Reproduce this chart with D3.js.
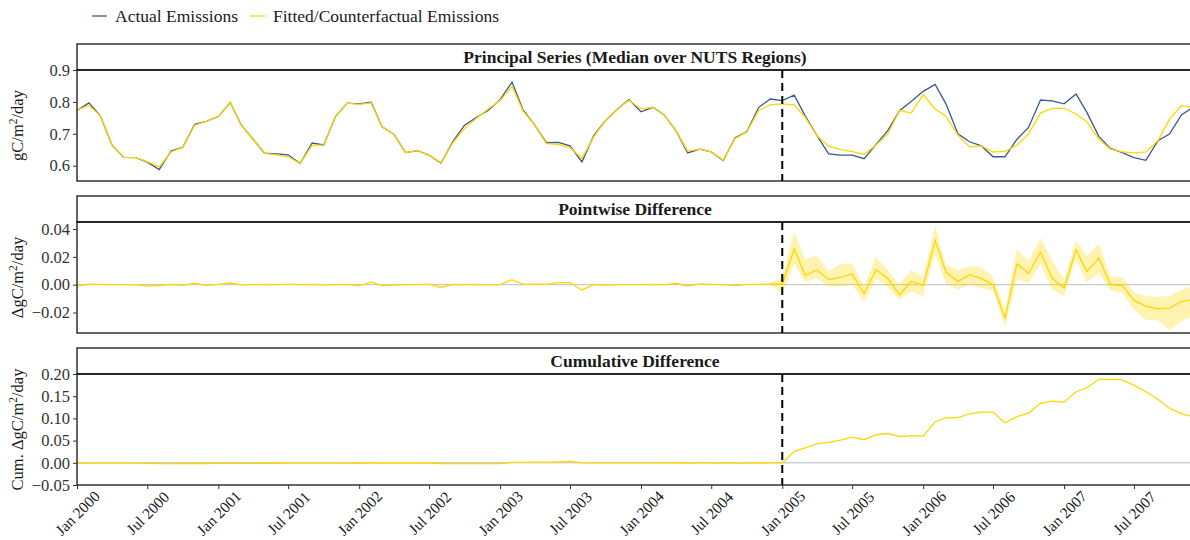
<!DOCTYPE html>
<html>
<head>
<meta charset="utf-8">
<script src="https://cdn.jsdelivr.net/npm/d3@7"></script>
<style>
body { margin: 0; background: #fff; }
text { font-family: "Liberation Serif", "DejaVu Serif", serif; }
</style>
</head>
<body>
<div id="chartArea"></div>
<script>
// monthly series, Jan 2000 .. Dec 2007
const startMonth = Date.UTC(2000, 0, 1);
const endMonth = Date.UTC(2007, 11, 1);
const breakMonth = Date.UTC(2005, 0, 1);

const actual = [
  0.773, 0.797, 0.757, 0.664, 0.626, 0.625, 0.611, 0.588, 0.646, 0.658, 0.730, 0.739,
  0.754, 0.798, 0.729, 0.683, 0.639, 0.637, 0.634, 0.607, 0.671, 0.665, 0.755, 0.796,
  0.794, 0.799, 0.722, 0.699, 0.641, 0.647, 0.633, 0.608, 0.676, 0.727, 0.752, 0.773,
  0.807, 0.862, 0.776, 0.727, 0.672, 0.673, 0.662, 0.612, 0.695, 0.741, 0.778, 0.807,
  0.769, 0.783, 0.759, 0.709, 0.640, 0.652, 0.643, 0.616, 0.688, 0.706, 0.783, 0.809,
  0.804, 0.821, 0.757, 0.694, 0.637, 0.633, 0.633, 0.622, 0.667, 0.709, 0.773, 0.801,
  0.833, 0.855, 0.794, 0.700, 0.675, 0.662, 0.628, 0.628, 0.683, 0.720, 0.806, 0.803,
  0.794, 0.825, 0.767, 0.692, 0.654, 0.641, 0.625, 0.617, 0.678, 0.699, 0.759, 0.783
];

const fitted = [
  0.775, 0.789, 0.757, 0.664, 0.626, 0.625, 0.613, 0.596, 0.643, 0.658, 0.727, 0.739,
  0.754, 0.798, 0.729, 0.683, 0.639, 0.634, 0.628, 0.607, 0.664, 0.665, 0.755, 0.796,
  0.792, 0.797, 0.722, 0.699, 0.641, 0.647, 0.633, 0.610, 0.672, 0.717, 0.749, 0.778,
  0.804, 0.849, 0.772, 0.727, 0.669, 0.667, 0.657, 0.623, 0.691, 0.741, 0.778, 0.805,
  0.778, 0.783, 0.759, 0.709, 0.646, 0.652, 0.643, 0.618, 0.685, 0.706, 0.773, 0.791,
  0.794, 0.791, 0.752, 0.694, 0.662, 0.650, 0.644, 0.636, 0.665, 0.699, 0.773, 0.765,
  0.823, 0.778, 0.755, 0.696, 0.659, 0.662, 0.643, 0.645, 0.664, 0.699, 0.765, 0.780,
  0.780, 0.762, 0.738, 0.683, 0.652, 0.643, 0.640, 0.643, 0.678, 0.746, 0.788, 0.783
];

const pointDiff = [
  -0.0010, 0.0003, 0.0002, 0.0001, 0.0000, -0.0002, -0.0010, -0.0006, 0.0002, -0.0005, 0.0010, -0.0005,
  0.0002, 0.0012, -0.0001, 0.0000, 0.0002, 0.0000, 0.0004, 0.0000, 0.0002, -0.0002, 0.0000, 0.0002,
  -0.0008, 0.0020, -0.0006, -0.0003, 0.0000, 0.0000, 0.0004, -0.0020, 0.0002, 0.0000, 0.0002, -0.0002,
  0.0000, 0.0036, 0.0002, 0.0004, 0.0002, 0.0014, 0.0014, -0.0038, 0.0000, -0.0003, 0.0000, 0.0000,
  0.0000, 0.0002, 0.0000, 0.0010, -0.0010, 0.0005, 0.0002, 0.0000, -0.0007, 0.0002, 0.0002, 0.0005,
  0.0005, 0.0257, 0.0067, 0.0106, 0.0036, 0.0053, 0.0077, -0.0065, 0.0108, 0.0046, -0.0072, 0.0024,
  -0.0005, 0.0317, 0.0091, 0.0022, 0.0072, 0.0043, 0.0000, -0.0240, 0.0149, 0.0082, 0.0233, 0.0048,
  -0.0024, 0.0252, 0.0094, 0.0192, 0.0000, -0.0007, -0.0113, -0.0156, -0.0173, -0.0168, -0.0120, -0.0108
];

// uncertainty band, from Dec 2004 onward
const bandStart = 59;
const bandLo = [
  0.0000,
  -0.0065, 0.0151, 0.0017, 0.0048, -0.0017, -0.0012, 0.0000, -0.0127, 0.0040, -0.0017, -0.0108, -0.0048,
  -0.0084, 0.0216, 0.0007, -0.0036, 0.0000, -0.0024, -0.0048, -0.0300, 0.0040, 0.0012, 0.0144, -0.0036,
  -0.0084, 0.0180, 0.0017, 0.0084, -0.0041, -0.0060, -0.0180, -0.0252, -0.0257, -0.0324, -0.0264, -0.0220
];
const bandHi = [
  0.0010,
  0.0055, 0.0384, 0.0180, 0.0210, 0.0096, 0.0151, 0.0151, -0.0010, 0.0200, 0.0103, 0.0000, 0.0103,
  0.0055, 0.0425, 0.0144, 0.0103, 0.0132, 0.0127, 0.0055, -0.0175, 0.0257, 0.0168, 0.0336, 0.0175,
  0.0036, 0.0319, 0.0204, 0.0293, 0.0060, 0.0055, -0.0055, -0.0084, -0.0089, -0.0079, -0.0036, -0.0010
];

const cumDiff = [
  -0.0010, -0.0008, -0.0007, -0.0007, -0.0008, -0.0009, -0.0015, -0.0018, -0.0017, -0.0019, -0.0014, -0.0016,
  -0.0015, -0.0010, -0.0011, -0.0011, -0.0010, -0.0010, -0.0008, -0.0008, -0.0007, -0.0008, -0.0008, -0.0007,
  -0.0010, -0.0002, -0.0004, -0.0005, -0.0005, -0.0005, -0.0004, -0.0018, -0.0018, -0.0019, -0.0018, -0.0019,
  -0.0019, 0.0008, 0.0010, 0.0014, 0.0015, 0.0020, 0.0030, 0.0002, 0.0000, -0.0002, -0.0002, -0.0002,
  -0.0002, -0.0001, -0.0002, 0.0001, -0.0005, -0.0003, -0.0003, -0.0004, -0.0007, -0.0006, -0.0005, -0.0003,
  0.0000, 0.0260, 0.0336, 0.0425, 0.0460, 0.0510, 0.0580, 0.0520, 0.0630, 0.0660, 0.0590, 0.0610,
  0.0600, 0.0925, 0.1010, 0.1020, 0.1100, 0.1140, 0.1140, 0.0900, 0.1040, 0.1120, 0.1340, 0.1390,
  0.1366, 0.1600, 0.1690, 0.1880, 0.1880, 0.1866, 0.1750, 0.1600, 0.1430, 0.1230, 0.1100, 0.1040
];

const months = d3.utcMonths(new Date(startMonth), new Date(Date.UTC(2008, 0, 1)));

const tickLabels1 = [0.6, 0.7, 0.8, 0.9];
const tickLabels2 = [-0.02, 0.00, 0.02, 0.04];
const tickLabels3 = [-0.05, 0.00, 0.05, 0.10, 0.15, 0.20];

const blue = "#3a5891";
const gold = "#ffd700";

const W = 1190, H = 540;
const left = 77, right = 1193;

const svg = d3.select("#chartArea")
  .append("svg")
  .attr("width", W)
  .attr("height", H)
  .style("display", "block");

svg.append("rect").attr("width", W).attr("height", H).attr("fill", "#fff");

const x = d3.scaleUtc()
  .domain([new Date(startMonth), new Date(endMonth)])
  .range([left, right]);

// legend
const legend = [
  { label: "Actual Emissions", color: blue, x: 92 },
  { label: "Fitted/Counterfactual Emissions", color: gold, x: 250 }
];
legend.forEach(l => {
  svg.append("line")
    .attr("x1", l.x).attr("x2", l.x + 15)
    .attr("y1", 16).attr("y2", 16)
    .attr("stroke", l.color).attr("stroke-width", 1.3);
  svg.append("text")
    .attr("x", l.x + 23).attr("y", 22)
    .attr("font-size", 17.5)
    .attr("fill", "#1a1a1a")
    .text(l.label);
});

function panel(opts) {
  const g = svg.append("g");
  const plotTop = opts.top + 26;
  const plotBottom = plotTop + 111;

  const y = d3.scaleLinear().domain(opts.domain).range([plotBottom, plotTop]);

  // strip
  g.append("rect")
    .attr("x", left).attr("y", opts.top)
    .attr("width", right - left).attr("height", plotTop - opts.top)
    .attr("fill", "#fff").attr("stroke", "#000").attr("stroke-width", 1.2);
  g.append("text")
    .attr("x", (left + right) / 2).attr("y", opts.top + 19)
    .attr("text-anchor", "middle")
    .attr("font-size", 17.5).attr("font-weight", "bold")
    .attr("fill", "#1a1a1a")
    .text(opts.title);

  const clipId = "clip" + opts.top;
  svg.append("clipPath").attr("id", clipId)
    .append("rect").attr("x", left).attr("y", plotTop)
    .attr("width", right - left).attr("height", plotBottom - plotTop);

  const inner = g.append("g").attr("clip-path", `url(#${clipId})`);

  if (opts.zeroLine) {
    inner.append("line")
      .attr("x1", left).attr("x2", right)
      .attr("y1", y(0)).attr("y2", y(0))
      .attr("stroke", "#bdbdbd").attr("stroke-width", 1);
  }

  opts.draw(inner, y);

  // break line
  inner.append("line")
    .attr("x1", x(new Date(breakMonth))).attr("x2", x(new Date(breakMonth)))
    .attr("y1", plotTop).attr("y2", plotBottom)
    .attr("stroke", "#000").attr("stroke-width", 2)
    .attr("stroke-dasharray", "8,5");

  // frame
  g.append("rect")
    .attr("x", left).attr("y", plotTop)
    .attr("width", right - left).attr("height", plotBottom - plotTop)
    .attr("fill", "none").attr("stroke", "#000").attr("stroke-width", 1.2);

  // y axis
  const ya = g.append("g")
    .attr("transform", `translate(${left},0)`)
    .call(d3.axisLeft(y).tickValues(opts.ticks).tickSize(4).tickFormat(d3.format(opts.fmt)));
  ya.select(".domain").remove();
  ya.selectAll("line").attr("stroke", "#333");
  ya.selectAll("text")
    .attr("font-family", "Liberation Serif")
    .attr("font-size", 16.5).attr("fill", "#333");

  // y title
  const t = g.append("text")
    .attr("transform", `translate(23,${(plotTop + plotBottom) / 2}) rotate(-90)`)
    .attr("text-anchor", "middle")
    .attr("font-size", 16.5).attr("fill", "#1a1a1a");
  t.append("tspan").text(opts.ylabel + "gC/m");
  t.append("tspan").attr("dy", -6).attr("font-size", 11.5).text("2");
  t.append("tspan").attr("dy", 6).text("/day");

  return { y, plotBottom };
}

const lineOf = (arr, y) => d3.line()
  .x((d, i) => x(months[i]))
  .y((d, i) => y(arr[i]))(arr);

panel({
  top: 44, domain: [0.552, 0.9], ticks: tickLabels1, fmt: ".1f",
  title: "Principal Series (Median over NUTS Regions)", ylabel: "",
  draw: (gg, y) => {
    gg.append("path").attr("d", lineOf(actual, y))
      .attr("fill", "none").attr("stroke", blue).attr("stroke-width", 1.3);
    gg.append("path").attr("d", lineOf(fitted, y))
      .attr("fill", "none").attr("stroke", gold).attr("stroke-width", 1.3);
  }
});

panel({
  top: 196, domain: [-0.0347, 0.045], ticks: tickLabels2, fmt: ".2f",
  title: "Pointwise Difference", ylabel: "Δ", zeroLine: true,
  draw: (gg, y) => {
    const area = d3.area()
      .x((d, i) => x(months[bandStart + i]))
      .y0((d, i) => y(bandLo[i]))
      .y1((d, i) => y(bandHi[i]));
    gg.append("path").attr("d", area(bandLo))
      .attr("fill", gold).attr("opacity", 0.3);
    gg.append("path").attr("d", lineOf(pointDiff, y))
      .attr("fill", "none").attr("stroke", gold).attr("stroke-width", 1.3);
  }
});

const p3 = panel({
  top: 348, domain: [-0.05, 0.2], ticks: tickLabels3, fmt: ".2f",
  title: "Cumulative Difference", ylabel: "Cum. Δ", zeroLine: true,
  draw: (gg, y) => {
    gg.append("path").attr("d", lineOf(cumDiff, y))
      .attr("fill", "none").attr("stroke", gold).attr("stroke-width", 1.3);
  }
});

// x axis on the last panel
const xTicks = d3.utcMonths(new Date(startMonth), new Date(Date.UTC(2008, 0, 1)), 6);
const xa = svg.append("g")
  .attr("transform", `translate(0,${p3.plotBottom})`)
  .call(d3.axisBottom(x).tickValues(xTicks).tickSize(4).tickFormat(d3.utcFormat("%b %Y")));
xa.select(".domain").remove();
xa.selectAll("line").attr("stroke", "#333");
xa.selectAll("text")
  .attr("font-family", "Liberation Serif")
  .attr("font-size", 15.5).attr("fill", "#1a1a1a")
  .attr("text-anchor", "middle")
  .attr("y", 0).attr("dy", "0.35em")
  .attr("transform", "translate(0,28) rotate(-45)");
</script>
</body>
</html>
